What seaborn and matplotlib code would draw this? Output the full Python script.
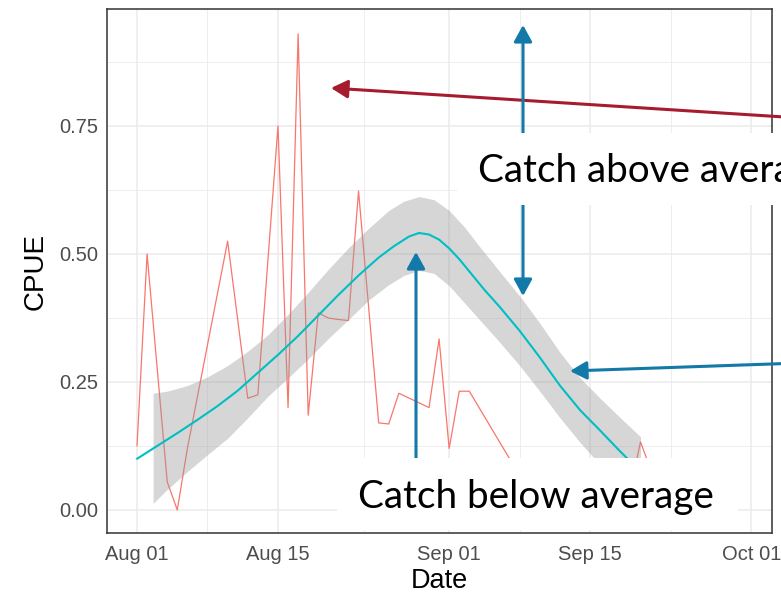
import numpy as np
import pandas as pd
import matplotlib
matplotlib.use("Agg")
import matplotlib.pyplot as plt
import matplotlib.dates as mdates
from matplotlib.patches import Rectangle, FancyArrowPatch
from matplotlib.transforms import IdentityTransform
import seaborn as sns

# ---------------- data ----------------
start = pd.Timestamp("2020-08-01")

cpue_day = [0, 1, 3, 4, 5, 9, 11, 12, 14, 15, 16, 17, 18, 19, 20, 21, 22, 24, 25,
            26, 29, 30, 31, 32, 33, 37, 38, 39, 40, 41, 42, 43, 44, 45, 46, 47,
            48, 49, 50, 51]
cpue_val = [0.125, 0.50, 0.055, 0.0, 0.12, 0.525, 0.218, 0.225, 0.75, 0.20, 0.93,
            0.185, 0.385, 0.375, 0.372, 0.37, 0.623, 0.17, 0.168, 0.228, 0.20,
            0.334, 0.12, 0.232, 0.232, 0.10, 0.07, 0.05, 0.03, 0.06, 0.0, 0.04,
            0.02, 0.05, 0.0, 0.03, 0.02, 0.04, 0.133, 0.08]

smooth_day = [0, 2, 4, 6, 8, 10, 12, 14, 16, 18, 20, 22, 24, 25.5, 27, 28, 29, 30,
              31, 32, 33, 34.5, 36, 38, 40, 42, 44, 46, 48, 50, 51]
smooth_fit = [0.100, 0.125, 0.150, 0.176, 0.203, 0.233, 0.268, 0.303, 0.340, 0.380,
              0.420, 0.458, 0.493, 0.515, 0.534, 0.541, 0.538, 0.528, 0.511, 0.490,
              0.466, 0.430, 0.397, 0.350, 0.298, 0.243, 0.195, 0.155, 0.114, 0.075,
              0.058]

band_day = [1.6, 3, 5, 7, 9, 11, 13, 15, 17, 19, 21, 23, 25, 26.5, 28, 29.5, 31,
            32.5, 34, 36, 38, 40, 42, 44, 46, 48, 50]
band_lo = [0.013, 0.040, 0.075, 0.108, 0.140, 0.180, 0.222, 0.258, 0.295, 0.335,
           0.372, 0.410, 0.440, 0.458, 0.468, 0.462, 0.438, 0.405, 0.372, 0.328,
           0.282, 0.232, 0.180, 0.132, 0.088, 0.045, 0.005]
band_hi = [0.228, 0.232, 0.243, 0.260, 0.282, 0.310, 0.342, 0.382, 0.425, 0.470,
           0.512, 0.550, 0.585, 0.603, 0.612, 0.606, 0.585, 0.553, 0.515, 0.466,
           0.418, 0.365, 0.308, 0.258, 0.218, 0.180, 0.143]

x_ticks = ["2020-08-01", "2020-08-15", "2020-09-01", "2020-09-15", "2020-10-01"]
x_minor = ["2020-08-08 00:00", "2020-08-23 12:00", "2020-09-08 00:00", "2020-09-23 00:00"]
y_ticks = [0.0, 0.25, 0.50, 0.75]
y_minor = [0.125, 0.375, 0.625, 0.875]

label_above = "Catch above average"
label_below = "Catch below average"

def to_dates(days):
    return start + pd.to_timedelta(np.asarray(days, dtype=float), unit="D")

cpue_df = pd.DataFrame({"Date": to_dates(cpue_day), "CPUE": cpue_val})
fit_df = pd.DataFrame({"Date": to_dates(smooth_day), "CPUE": smooth_fit})
band_df = pd.DataFrame({"Date": to_dates(band_day), "lo": band_lo, "hi": band_hi})

# ---------------- figure ----------------
sns.set_theme(style="white")
plt.rcParams["font.family"] = ["Liberation Sans", "DejaVu Sans"]

W, H = 781, 597
fig = plt.figure(figsize=(W / 100, H / 100), dpi=100)
fig.patch.set_facecolor("white")
L, R, T, B = 107, 772, 9, 533
ax = fig.add_axes([L / W, 1 - B / H, (R - L) / W, (B - T) / H])
ax.set_facecolor("white")

sns.lineplot(data=cpue_df, x="Date", y="CPUE", ax=ax, color="#F8766D",
             linewidth=0.9, zorder=3)
ax.fill_between(band_df["Date"], band_df["lo"], band_df["hi"], color="#999999",
                alpha=0.4, linewidth=0, zorder=4)
sns.lineplot(data=fit_df, x="Date", y="CPUE", ax=ax, color="#00BFC4",
             linewidth=1.5, zorder=5)

ax.set_xlim(start - pd.Timedelta(days=2.98), start + pd.Timedelta(days=63.06))
ax.set_ylim(-0.045, 0.9785)

ax.set_xticks(pd.to_datetime(x_ticks))
ax.set_xticks(pd.to_datetime(x_minor, format="%Y-%m-%d %H:%M"), minor=True)
ax.xaxis.set_major_formatter(mdates.DateFormatter("%b %d"))
ax.set_yticks(y_ticks)
ax.set_yticks(y_minor, minor=True)
ax.set_yticklabels([f"{v:.2f}" for v in y_ticks])

ax.grid(True, which="major", color="#EBEBEB", linewidth=1.1, zorder=0)
ax.grid(True, which="minor", color="#EBEBEB", linewidth=0.6, zorder=0)
ax.set_axisbelow(True)

for s in ax.spines.values():
    s.set_color("#333333")
    s.set_linewidth(1.1)

ax.tick_params(axis="both", which="major", length=3.6, width=1.0, color="#333333",
               labelcolor="#4D4D4D", labelsize=14.5, pad=3)
ax.tick_params(axis="both", which="minor", length=0)
ax.tick_params(axis="x", pad=5)

ax.set_xlabel("Date", fontsize=19.5, color="black", labelpad=3)
ax.set_ylabel("CPUE", fontsize=20, color="black", labelpad=7)

# ---------------- overlay annotations (pixel layout) ----------------
ident = IdentityTransform()

def P(x, y):
    return (x, H - y)

BLUE = "#1279A8"
DRED = "#A61B2D"

def arrow(a, b, color, style="-|>"):
    fig.add_artist(FancyArrowPatch(P(*a), P(*b), transform=ident,
                                   arrowstyle=f"{style},head_length=1.0,head_width=0.55",
                                   mutation_scale=10, lw=2.2, color=color,
                                   shrinkA=0, shrinkB=0, zorder=10))

arrow((800, 118), (331, 88), DRED)
arrow((523, 25), (523, 296), BLUE, "<|-|>")
arrow((416, 470), (416, 252), BLUE)
arrow((800, 363), (570, 371), BLUE)

fig.add_artist(Rectangle(P(457, 205), 343, 72, transform=ident, facecolor="white",
                         edgecolor="none", zorder=11))
fig.add_artist(Rectangle(P(337, 530), 401, 72, transform=ident, facecolor="white",
                         edgecolor="none", zorder=11))

t_below = fig.text(535.5 / W, (H - 508) / H, label_below, ha="center", va="baseline",
                   fontsize=26, family=["Lato", "DejaVu Sans"], color="black", zorder=12)
t_above = fig.text(478 / W, (H - 182) / H, label_above, ha="left", va="baseline",
                   fontsize=26, family=["Lato", "DejaVu Sans"], color="black", zorder=12)

fig.canvas.draw()
wpx = t_below.get_window_extent().width
fs = 26 * 355 / wpx
t_below.set_fontsize(fs)
t_above.set_fontsize(fs)

fig.savefig("out.png", dpi=100, facecolor="white")
